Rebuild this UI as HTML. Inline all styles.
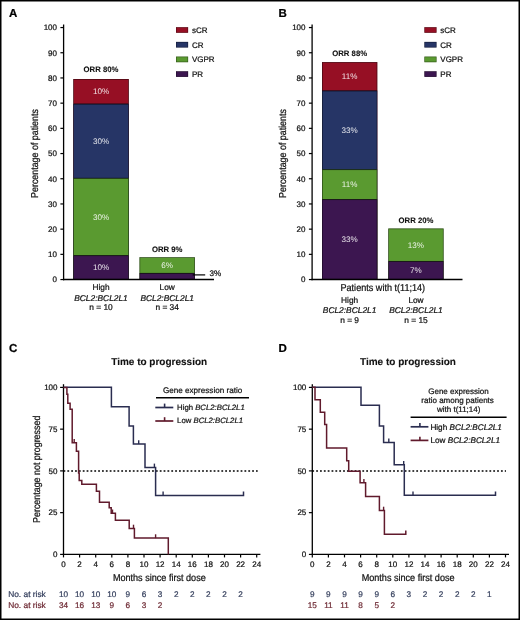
<!DOCTYPE html>
<html><head><meta charset="utf-8"><style>
html,body{margin:0;padding:0;background:#fff;}
svg{display:block;font-family:"Liberation Sans", sans-serif;will-change:transform;text-rendering:geometricPrecision;}
</style></head><body>
<svg width="520" height="620" viewBox="0 0 520 620">
<rect width="520" height="620" fill="#fff"/>
<text x="9.00" y="16.90" font-size="11.5" text-anchor="start" font-weight="bold" fill="#000" stroke="#000" stroke-width="0.22">A</text>
<line x1="63.60" y1="24.60" x2="63.60" y2="280.20" stroke="#000" stroke-width="1.3"/>
<line x1="60.40" y1="279.55" x2="63.60" y2="279.55" stroke="#000" stroke-width="1.2"/>
<text x="57.00" y="282.30" font-size="8.0" text-anchor="end" fill="#111" stroke="#111" stroke-width="0.22">0</text>
<line x1="60.40" y1="254.35" x2="63.60" y2="254.35" stroke="#000" stroke-width="1.2"/>
<text x="57.00" y="257.10" font-size="8.0" text-anchor="end" fill="#111" stroke="#111" stroke-width="0.22">10</text>
<line x1="60.40" y1="229.15" x2="63.60" y2="229.15" stroke="#000" stroke-width="1.2"/>
<text x="57.00" y="231.90" font-size="8.0" text-anchor="end" fill="#111" stroke="#111" stroke-width="0.22">20</text>
<line x1="60.40" y1="203.95" x2="63.60" y2="203.95" stroke="#000" stroke-width="1.2"/>
<text x="57.00" y="206.70" font-size="8.0" text-anchor="end" fill="#111" stroke="#111" stroke-width="0.22">30</text>
<line x1="60.40" y1="178.75" x2="63.60" y2="178.75" stroke="#000" stroke-width="1.2"/>
<text x="57.00" y="181.50" font-size="8.0" text-anchor="end" fill="#111" stroke="#111" stroke-width="0.22">40</text>
<line x1="60.40" y1="153.55" x2="63.60" y2="153.55" stroke="#000" stroke-width="1.2"/>
<text x="57.00" y="156.30" font-size="8.0" text-anchor="end" fill="#111" stroke="#111" stroke-width="0.22">50</text>
<line x1="60.40" y1="128.35" x2="63.60" y2="128.35" stroke="#000" stroke-width="1.2"/>
<text x="57.00" y="131.10" font-size="8.0" text-anchor="end" fill="#111" stroke="#111" stroke-width="0.22">60</text>
<line x1="60.40" y1="103.15" x2="63.60" y2="103.15" stroke="#000" stroke-width="1.2"/>
<text x="57.00" y="105.90" font-size="8.0" text-anchor="end" fill="#111" stroke="#111" stroke-width="0.22">70</text>
<line x1="60.40" y1="77.95" x2="63.60" y2="77.95" stroke="#000" stroke-width="1.2"/>
<text x="57.00" y="80.70" font-size="8.0" text-anchor="end" fill="#111" stroke="#111" stroke-width="0.22">80</text>
<line x1="60.40" y1="52.75" x2="63.60" y2="52.75" stroke="#000" stroke-width="1.2"/>
<text x="57.00" y="55.50" font-size="8.0" text-anchor="end" fill="#111" stroke="#111" stroke-width="0.22">90</text>
<line x1="60.40" y1="27.55" x2="63.60" y2="27.55" stroke="#000" stroke-width="1.2"/>
<text x="57.00" y="30.30" font-size="8.0" text-anchor="end" fill="#111" stroke="#111" stroke-width="0.22">100</text>
<text transform="translate(37.50,153.50) rotate(-90) scale(0.887,1)" font-size="10.0" text-anchor="middle" fill="#111" stroke="#111" stroke-width="0.248">Percentage of patients</text>
<rect x="73.30" y="79.00" width="55.50" height="200.55" fill="#960f24"/>
<rect x="73.30" y="103.85" width="55.50" height="175.70" fill="#263566"/>
<rect x="73.30" y="178.10" width="55.50" height="101.45" fill="#5a9a30"/>
<rect x="73.30" y="255.40" width="55.50" height="24.15" fill="#3c1650"/>
<rect x="73.65" y="79.35" width="54.80" height="24.50" fill="none" stroke="#000" stroke-opacity="0.55" stroke-width="0.7"/>
<rect x="73.65" y="104.20" width="54.80" height="73.90" fill="none" stroke="#000" stroke-opacity="0.55" stroke-width="0.7"/>
<rect x="73.65" y="178.45" width="54.80" height="76.95" fill="none" stroke="#000" stroke-opacity="0.55" stroke-width="0.7"/>
<rect x="73.65" y="255.75" width="54.80" height="23.45" fill="none" stroke="#000" stroke-opacity="0.55" stroke-width="0.7"/>
<text x="101.05" y="94.27" font-size="8.1" text-anchor="middle" fill="#fff" fill-opacity="0.88">10%</text>
<text x="101.05" y="143.82" font-size="8.1" text-anchor="middle" fill="#fff" fill-opacity="0.88">30%</text>
<text x="101.05" y="219.60" font-size="8.1" text-anchor="middle" fill="#fff" fill-opacity="0.88">30%</text>
<text x="101.05" y="270.45" font-size="8.1" text-anchor="middle" fill="#fff" fill-opacity="0.88">10%</text>
<text x="101.05" y="72.30" font-size="7.75" text-anchor="middle" font-weight="bold" fill="#111" stroke="#111" stroke-width="0.1">ORR 80%</text>
<rect x="139.50" y="257.30" width="55.40" height="22.25" fill="#5a9a30"/>
<rect x="139.50" y="273.20" width="55.40" height="6.35" fill="#3c1650"/>
<rect x="139.85" y="257.65" width="54.70" height="15.55" fill="none" stroke="#000" stroke-opacity="0.55" stroke-width="0.7"/>
<rect x="139.85" y="273.55" width="54.70" height="5.65" fill="none" stroke="#000" stroke-opacity="0.55" stroke-width="0.7"/>
<text x="167.20" y="268.10" font-size="8.1" text-anchor="middle" fill="#fff" fill-opacity="0.88">6%</text>
<text x="167.20" y="251.60" font-size="7.75" text-anchor="middle" font-weight="bold" fill="#111" stroke="#111" stroke-width="0.1">ORR 9%</text>
<line x1="63.00" y1="279.55" x2="214.00" y2="279.55" stroke="#000" stroke-width="1.4"/>
<line x1="192.70" y1="274.90" x2="205.20" y2="274.90" stroke="#000" stroke-width="1.2"/>
<text x="209.60" y="275.60" font-size="8.1" text-anchor="start" fill="#111" stroke="#111" stroke-width="0.22">3%</text>
<text x="101.00" y="289.60" font-size="8.3" text-anchor="middle" fill="#111" stroke="#111" stroke-width="0.22">High</text>
<text x="101.00" y="300.80" font-size="8.4" text-anchor="middle" font-style="italic" fill="#111" stroke="#111" stroke-width="0.22">BCL2:BCL2L1</text>
<text x="101.00" y="310.40" font-size="8.4" text-anchor="middle" fill="#111" stroke="#111" stroke-width="0.22">n = 10</text>
<text x="167.20" y="289.60" font-size="8.3" text-anchor="middle" fill="#111" stroke="#111" stroke-width="0.22">Low</text>
<text x="167.20" y="300.80" font-size="8.4" text-anchor="middle" font-style="italic" fill="#111" stroke="#111" stroke-width="0.22">BCL2:BCL2L1</text>
<text x="167.20" y="310.40" font-size="8.4" text-anchor="middle" fill="#111" stroke="#111" stroke-width="0.22">n = 34</text>
<text x="278.60" y="17.20" font-size="11.5" text-anchor="start" font-weight="bold" fill="#000" stroke="#000" stroke-width="0.22">B</text>
<line x1="312.10" y1="24.60" x2="312.10" y2="280.20" stroke="#000" stroke-width="1.3"/>
<line x1="308.90" y1="279.55" x2="312.10" y2="279.55" stroke="#000" stroke-width="1.2"/>
<text x="305.50" y="282.30" font-size="8.0" text-anchor="end" fill="#111" stroke="#111" stroke-width="0.22">0</text>
<line x1="308.90" y1="254.35" x2="312.10" y2="254.35" stroke="#000" stroke-width="1.2"/>
<text x="305.50" y="257.10" font-size="8.0" text-anchor="end" fill="#111" stroke="#111" stroke-width="0.22">10</text>
<line x1="308.90" y1="229.15" x2="312.10" y2="229.15" stroke="#000" stroke-width="1.2"/>
<text x="305.50" y="231.90" font-size="8.0" text-anchor="end" fill="#111" stroke="#111" stroke-width="0.22">20</text>
<line x1="308.90" y1="203.95" x2="312.10" y2="203.95" stroke="#000" stroke-width="1.2"/>
<text x="305.50" y="206.70" font-size="8.0" text-anchor="end" fill="#111" stroke="#111" stroke-width="0.22">30</text>
<line x1="308.90" y1="178.75" x2="312.10" y2="178.75" stroke="#000" stroke-width="1.2"/>
<text x="305.50" y="181.50" font-size="8.0" text-anchor="end" fill="#111" stroke="#111" stroke-width="0.22">40</text>
<line x1="308.90" y1="153.55" x2="312.10" y2="153.55" stroke="#000" stroke-width="1.2"/>
<text x="305.50" y="156.30" font-size="8.0" text-anchor="end" fill="#111" stroke="#111" stroke-width="0.22">50</text>
<line x1="308.90" y1="128.35" x2="312.10" y2="128.35" stroke="#000" stroke-width="1.2"/>
<text x="305.50" y="131.10" font-size="8.0" text-anchor="end" fill="#111" stroke="#111" stroke-width="0.22">60</text>
<line x1="308.90" y1="103.15" x2="312.10" y2="103.15" stroke="#000" stroke-width="1.2"/>
<text x="305.50" y="105.90" font-size="8.0" text-anchor="end" fill="#111" stroke="#111" stroke-width="0.22">70</text>
<line x1="308.90" y1="77.95" x2="312.10" y2="77.95" stroke="#000" stroke-width="1.2"/>
<text x="305.50" y="80.70" font-size="8.0" text-anchor="end" fill="#111" stroke="#111" stroke-width="0.22">80</text>
<line x1="308.90" y1="52.75" x2="312.10" y2="52.75" stroke="#000" stroke-width="1.2"/>
<text x="305.50" y="55.50" font-size="8.0" text-anchor="end" fill="#111" stroke="#111" stroke-width="0.22">90</text>
<line x1="308.90" y1="27.55" x2="312.10" y2="27.55" stroke="#000" stroke-width="1.2"/>
<text x="305.50" y="30.30" font-size="8.0" text-anchor="end" fill="#111" stroke="#111" stroke-width="0.22">100</text>
<text transform="translate(285.90,153.50) rotate(-90) scale(0.887,1)" font-size="10.0" text-anchor="middle" fill="#111" stroke="#111" stroke-width="0.248">Percentage of patients</text>
<rect x="322.00" y="62.10" width="55.30" height="217.45" fill="#960f24"/>
<rect x="322.00" y="90.70" width="55.30" height="188.85" fill="#263566"/>
<rect x="322.00" y="169.40" width="55.30" height="110.15" fill="#5a9a30"/>
<rect x="322.00" y="199.35" width="55.30" height="80.20" fill="#3c1650"/>
<rect x="322.35" y="62.45" width="54.60" height="28.25" fill="none" stroke="#000" stroke-opacity="0.55" stroke-width="0.7"/>
<rect x="322.35" y="91.05" width="54.60" height="78.35" fill="none" stroke="#000" stroke-opacity="0.55" stroke-width="0.7"/>
<rect x="322.35" y="169.75" width="54.60" height="29.60" fill="none" stroke="#000" stroke-opacity="0.55" stroke-width="0.7"/>
<rect x="322.35" y="199.70" width="54.60" height="79.50" fill="none" stroke="#000" stroke-opacity="0.55" stroke-width="0.7"/>
<text x="349.65" y="79.25" font-size="8.1" text-anchor="middle" fill="#fff" fill-opacity="0.88">11%</text>
<text x="349.65" y="132.90" font-size="8.1" text-anchor="middle" fill="#fff" fill-opacity="0.88">33%</text>
<text x="349.65" y="187.22" font-size="8.1" text-anchor="middle" fill="#fff" fill-opacity="0.88">11%</text>
<text x="349.65" y="242.42" font-size="8.1" text-anchor="middle" fill="#fff" fill-opacity="0.88">33%</text>
<text x="349.65" y="55.70" font-size="7.75" text-anchor="middle" font-weight="bold" fill="#111" stroke="#111" stroke-width="0.1">ORR 88%</text>
<rect x="388.30" y="228.50" width="55.30" height="51.05" fill="#5a9a30"/>
<rect x="388.30" y="261.30" width="55.30" height="18.25" fill="#3c1650"/>
<rect x="388.65" y="228.85" width="54.60" height="32.45" fill="none" stroke="#000" stroke-opacity="0.55" stroke-width="0.7"/>
<rect x="388.65" y="261.65" width="54.60" height="17.55" fill="none" stroke="#000" stroke-opacity="0.55" stroke-width="0.7"/>
<text x="415.95" y="247.75" font-size="8.1" text-anchor="middle" fill="#fff" fill-opacity="0.88">13%</text>
<text x="415.95" y="273.40" font-size="8.1" text-anchor="middle" fill="#fff" fill-opacity="0.88">7%</text>
<text x="415.95" y="222.70" font-size="7.75" text-anchor="middle" font-weight="bold" fill="#111" stroke="#111" stroke-width="0.1">ORR 20%</text>
<line x1="311.50" y1="279.55" x2="462.50" y2="279.55" stroke="#000" stroke-width="1.4"/>
<text transform="translate(382.80,291.40) scale(0.908,1)" font-size="10.0" text-anchor="middle" fill="#111" stroke="#111" stroke-width="0.242">Patients with t(11;14)</text>
<text x="349.60" y="303.10" font-size="8.3" text-anchor="middle" fill="#111" stroke="#111" stroke-width="0.22">High</text>
<text x="349.60" y="313.20" font-size="8.4" text-anchor="middle" font-style="italic" fill="#111" stroke="#111" stroke-width="0.22">BCL2:BCL2L1</text>
<text x="349.60" y="323.40" font-size="8.4" text-anchor="middle" fill="#111" stroke="#111" stroke-width="0.22">n = 9</text>
<text x="416.00" y="303.10" font-size="8.3" text-anchor="middle" fill="#111" stroke="#111" stroke-width="0.22">Low</text>
<text x="416.00" y="313.20" font-size="8.4" text-anchor="middle" font-style="italic" fill="#111" stroke="#111" stroke-width="0.22">BCL2:BCL2L1</text>
<text x="416.00" y="323.40" font-size="8.4" text-anchor="middle" fill="#111" stroke="#111" stroke-width="0.22">n = 15</text>
<rect x="176.00" y="27.20" width="12.10" height="5.60" fill="#960f24"/>
<rect x="176.30" y="27.50" width="11.5" height="5.0" fill="none" stroke="#000" stroke-opacity="0.45" stroke-width="0.6"/>
<text x="191.90" y="32.90" font-size="8.0" text-anchor="start" fill="#111" stroke="#111" stroke-width="0.22">sCR</text>
<rect x="176.00" y="41.90" width="12.10" height="5.60" fill="#263566"/>
<rect x="176.30" y="42.20" width="11.5" height="5.0" fill="none" stroke="#000" stroke-opacity="0.45" stroke-width="0.6"/>
<text x="191.90" y="47.60" font-size="8.0" text-anchor="start" fill="#111" stroke="#111" stroke-width="0.22">CR</text>
<rect x="176.00" y="56.60" width="12.10" height="5.60" fill="#5a9a30"/>
<rect x="176.30" y="56.90" width="11.5" height="5.0" fill="none" stroke="#000" stroke-opacity="0.45" stroke-width="0.6"/>
<text x="191.90" y="62.30" font-size="8.0" text-anchor="start" fill="#111" stroke="#111" stroke-width="0.22">VGPR</text>
<rect x="176.00" y="71.30" width="12.10" height="5.60" fill="#3c1650"/>
<rect x="176.30" y="71.60" width="11.5" height="5.0" fill="none" stroke="#000" stroke-opacity="0.45" stroke-width="0.6"/>
<text x="191.90" y="77.00" font-size="8.0" text-anchor="start" fill="#111" stroke="#111" stroke-width="0.22">PR</text>
<rect x="424.40" y="27.20" width="12.10" height="5.60" fill="#960f24"/>
<rect x="424.70" y="27.50" width="11.5" height="5.0" fill="none" stroke="#000" stroke-opacity="0.45" stroke-width="0.6"/>
<text x="440.30" y="32.90" font-size="8.0" text-anchor="start" fill="#111" stroke="#111" stroke-width="0.22">sCR</text>
<rect x="424.40" y="41.90" width="12.10" height="5.60" fill="#263566"/>
<rect x="424.70" y="42.20" width="11.5" height="5.0" fill="none" stroke="#000" stroke-opacity="0.45" stroke-width="0.6"/>
<text x="440.30" y="47.60" font-size="8.0" text-anchor="start" fill="#111" stroke="#111" stroke-width="0.22">CR</text>
<rect x="424.40" y="56.60" width="12.10" height="5.60" fill="#5a9a30"/>
<rect x="424.70" y="56.90" width="11.5" height="5.0" fill="none" stroke="#000" stroke-opacity="0.45" stroke-width="0.6"/>
<text x="440.30" y="62.30" font-size="8.0" text-anchor="start" fill="#111" stroke="#111" stroke-width="0.22">VGPR</text>
<rect x="424.40" y="71.30" width="12.10" height="5.60" fill="#3c1650"/>
<rect x="424.70" y="71.60" width="11.5" height="5.0" fill="none" stroke="#000" stroke-opacity="0.45" stroke-width="0.6"/>
<text x="440.30" y="77.00" font-size="8.0" text-anchor="start" fill="#111" stroke="#111" stroke-width="0.22">PR</text>
<text x="9.00" y="351.50" font-size="11.5" text-anchor="start" font-weight="bold" fill="#000" stroke="#000" stroke-width="0.22">C</text>
<text x="159.20" y="365.00" font-size="10.0" text-anchor="middle" font-weight="bold" fill="#111" stroke="#111" stroke-width="0.1">Time to progression</text>
<line x1="63.50" y1="384.20" x2="63.50" y2="555.05" stroke="#000" stroke-width="1.3"/>
<line x1="62.85" y1="554.40" x2="260.40" y2="554.40" stroke="#000" stroke-width="1.3"/>
<line x1="60.10" y1="554.40" x2="63.50" y2="554.40" stroke="#000" stroke-width="1.2"/>
<text x="57.50" y="557.20" font-size="8.0" text-anchor="end" fill="#111" stroke="#111" stroke-width="0.22">0</text>
<line x1="60.10" y1="512.65" x2="63.50" y2="512.65" stroke="#000" stroke-width="1.2"/>
<text x="57.50" y="515.45" font-size="8.0" text-anchor="end" fill="#111" stroke="#111" stroke-width="0.22">25</text>
<line x1="60.10" y1="470.90" x2="63.50" y2="470.90" stroke="#000" stroke-width="1.2"/>
<text x="57.50" y="473.70" font-size="8.0" text-anchor="end" fill="#111" stroke="#111" stroke-width="0.22">50</text>
<line x1="60.10" y1="429.15" x2="63.50" y2="429.15" stroke="#000" stroke-width="1.2"/>
<text x="57.50" y="431.95" font-size="8.0" text-anchor="end" fill="#111" stroke="#111" stroke-width="0.22">75</text>
<line x1="60.10" y1="387.40" x2="63.50" y2="387.40" stroke="#000" stroke-width="1.2"/>
<text x="57.50" y="390.20" font-size="8.0" text-anchor="end" fill="#111" stroke="#111" stroke-width="0.22">100</text>
<line x1="63.50" y1="554.40" x2="63.50" y2="557.40" stroke="#000" stroke-width="1.2"/>
<text x="63.50" y="566.90" font-size="8.0" text-anchor="middle" fill="#111" stroke="#111" stroke-width="0.22">0</text>
<line x1="79.60" y1="554.40" x2="79.60" y2="557.40" stroke="#000" stroke-width="1.2"/>
<text x="79.60" y="566.90" font-size="8.0" text-anchor="middle" fill="#111" stroke="#111" stroke-width="0.22">2</text>
<line x1="95.70" y1="554.40" x2="95.70" y2="557.40" stroke="#000" stroke-width="1.2"/>
<text x="95.70" y="566.90" font-size="8.0" text-anchor="middle" fill="#111" stroke="#111" stroke-width="0.22">4</text>
<line x1="111.80" y1="554.40" x2="111.80" y2="557.40" stroke="#000" stroke-width="1.2"/>
<text x="111.80" y="566.90" font-size="8.0" text-anchor="middle" fill="#111" stroke="#111" stroke-width="0.22">6</text>
<line x1="127.90" y1="554.40" x2="127.90" y2="557.40" stroke="#000" stroke-width="1.2"/>
<text x="127.90" y="566.90" font-size="8.0" text-anchor="middle" fill="#111" stroke="#111" stroke-width="0.22">8</text>
<line x1="144.00" y1="554.40" x2="144.00" y2="557.40" stroke="#000" stroke-width="1.2"/>
<text x="144.00" y="566.90" font-size="8.0" text-anchor="middle" fill="#111" stroke="#111" stroke-width="0.22">10</text>
<line x1="160.10" y1="554.40" x2="160.10" y2="557.40" stroke="#000" stroke-width="1.2"/>
<text x="160.10" y="566.90" font-size="8.0" text-anchor="middle" fill="#111" stroke="#111" stroke-width="0.22">12</text>
<line x1="176.20" y1="554.40" x2="176.20" y2="557.40" stroke="#000" stroke-width="1.2"/>
<text x="176.20" y="566.90" font-size="8.0" text-anchor="middle" fill="#111" stroke="#111" stroke-width="0.22">14</text>
<line x1="192.30" y1="554.40" x2="192.30" y2="557.40" stroke="#000" stroke-width="1.2"/>
<text x="192.30" y="566.90" font-size="8.0" text-anchor="middle" fill="#111" stroke="#111" stroke-width="0.22">16</text>
<line x1="208.40" y1="554.40" x2="208.40" y2="557.40" stroke="#000" stroke-width="1.2"/>
<text x="208.40" y="566.90" font-size="8.0" text-anchor="middle" fill="#111" stroke="#111" stroke-width="0.22">18</text>
<line x1="224.50" y1="554.40" x2="224.50" y2="557.40" stroke="#000" stroke-width="1.2"/>
<text x="224.50" y="566.90" font-size="8.0" text-anchor="middle" fill="#111" stroke="#111" stroke-width="0.22">20</text>
<line x1="240.60" y1="554.40" x2="240.60" y2="557.40" stroke="#000" stroke-width="1.2"/>
<text x="240.60" y="566.90" font-size="8.0" text-anchor="middle" fill="#111" stroke="#111" stroke-width="0.22">22</text>
<line x1="256.70" y1="554.40" x2="256.70" y2="557.40" stroke="#000" stroke-width="1.2"/>
<text x="256.70" y="566.90" font-size="8.0" text-anchor="middle" fill="#111" stroke="#111" stroke-width="0.22">24</text>
<text transform="translate(159.30,580.80) scale(0.908,1)" font-size="10.0" text-anchor="middle" fill="#111" stroke="#111" stroke-width="0.242">Months since first dose</text>
<text transform="translate(39.60,469.30) rotate(-90) scale(0.889,1)" font-size="10.0" text-anchor="middle" fill="#111" stroke="#111" stroke-width="0.247">Percentage not progressed</text>
<line x1="63.50" y1="471.0" x2="257.70" y2="471.0" stroke="#000" stroke-width="1.6" stroke-dasharray="1.8 2.05"/>
<path d="M63.5,387.3 H111.4 V406.8 H129.1 V426.0 H133.4 V444.1 H145.0 V467.4 H155.6 V495.4 H243.5 V491.6" fill="none" stroke="#2a2d50" stroke-width="1.5" stroke-linejoin="miter"/>
<path d="M63.5,387.4 H66.9 V394.2 H67.8 V403.3 H70.1 V409.3 H72.2 V442.7 H76.4 V451.2 H78.6 V473.1 H79.2 V480.4 H81.8 V484.2 H96.4 V491.2 H99.5 V502.3 H109.2 V507.7 H111.2 V513.3 H115.4 V520.2 H129.2 V528.5 H134.4 V538.1 H168.3 V554.4" fill="none" stroke="#601a2c" stroke-width="1.5" stroke-linejoin="miter"/>
<line x1="138.70" y1="440.30" x2="138.70" y2="444.10" stroke="#2a2d50" stroke-width="1.4"/>
<line x1="154.40" y1="463.60" x2="154.40" y2="467.40" stroke="#2a2d50" stroke-width="1.4"/>
<line x1="163.10" y1="491.60" x2="163.10" y2="495.40" stroke="#2a2d50" stroke-width="1.4"/>
<line x1="74.20" y1="438.90" x2="74.20" y2="442.70" stroke="#601a2c" stroke-width="1.4"/>
<line x1="112.50" y1="509.50" x2="112.50" y2="513.30" stroke="#601a2c" stroke-width="1.4"/>
<line x1="133.50" y1="524.70" x2="133.50" y2="528.50" stroke="#601a2c" stroke-width="1.4"/>
<line x1="155.60" y1="534.30" x2="155.60" y2="538.10" stroke="#601a2c" stroke-width="1.4"/>
<text x="163.00" y="393.20" font-size="8.1" text-anchor="start" fill="#111" stroke="#111" stroke-width="0.22">Gene expression ratio</text>
<line x1="156.00" y1="397.80" x2="249.00" y2="397.80" stroke="#000" stroke-width="1.4"/>
<line x1="155.30" y1="407.50" x2="173.30" y2="407.50" stroke="#2a2d50" stroke-width="1.7"/>
<line x1="164.60" y1="403.60" x2="164.60" y2="407.50" stroke="#2a2d50" stroke-width="1.6"/>
<text x="177.10" y="409.60" font-size="7.75" text-anchor="start" fill="#111" stroke="#111" stroke-width="0.22">High <tspan font-style="italic">BCL2:BCL2L1</tspan></text>
<line x1="155.30" y1="421.00" x2="173.30" y2="421.00" stroke="#601a2c" stroke-width="1.7"/>
<line x1="164.60" y1="417.20" x2="164.60" y2="421.00" stroke="#601a2c" stroke-width="1.6"/>
<text x="177.10" y="422.80" font-size="7.75" text-anchor="start" fill="#111" stroke="#111" stroke-width="0.22">Low <tspan font-style="italic">BCL2:BCL2L1</tspan></text>
<text x="8.20" y="596.50" font-size="8.35" text-anchor="start" fill="#36405e" stroke="#36405e" stroke-width="0.22">No. at risk</text>
<text x="8.20" y="608.30" font-size="8.35" text-anchor="start" fill="#6e2a34" stroke="#6e2a34" stroke-width="0.22">No. at risk</text>
<text x="63.50" y="596.50" font-size="8.2" text-anchor="middle" fill="#36405e" stroke="#36405e" stroke-width="0.22">10</text>
<text x="79.60" y="596.50" font-size="8.2" text-anchor="middle" fill="#36405e" stroke="#36405e" stroke-width="0.22">10</text>
<text x="95.70" y="596.50" font-size="8.2" text-anchor="middle" fill="#36405e" stroke="#36405e" stroke-width="0.22">10</text>
<text x="111.80" y="596.50" font-size="8.2" text-anchor="middle" fill="#36405e" stroke="#36405e" stroke-width="0.22">10</text>
<text x="127.90" y="596.50" font-size="8.2" text-anchor="middle" fill="#36405e" stroke="#36405e" stroke-width="0.22">9</text>
<text x="144.00" y="596.50" font-size="8.2" text-anchor="middle" fill="#36405e" stroke="#36405e" stroke-width="0.22">6</text>
<text x="160.10" y="596.50" font-size="8.2" text-anchor="middle" fill="#36405e" stroke="#36405e" stroke-width="0.22">3</text>
<text x="176.20" y="596.50" font-size="8.2" text-anchor="middle" fill="#36405e" stroke="#36405e" stroke-width="0.22">2</text>
<text x="192.30" y="596.50" font-size="8.2" text-anchor="middle" fill="#36405e" stroke="#36405e" stroke-width="0.22">2</text>
<text x="208.40" y="596.50" font-size="8.2" text-anchor="middle" fill="#36405e" stroke="#36405e" stroke-width="0.22">2</text>
<text x="224.50" y="596.50" font-size="8.2" text-anchor="middle" fill="#36405e" stroke="#36405e" stroke-width="0.22">2</text>
<text x="240.60" y="596.50" font-size="8.2" text-anchor="middle" fill="#36405e" stroke="#36405e" stroke-width="0.22">2</text>
<text x="63.50" y="608.30" font-size="8.2" text-anchor="middle" fill="#6e2a34" stroke="#6e2a34" stroke-width="0.22">34</text>
<text x="79.60" y="608.30" font-size="8.2" text-anchor="middle" fill="#6e2a34" stroke="#6e2a34" stroke-width="0.22">16</text>
<text x="95.70" y="608.30" font-size="8.2" text-anchor="middle" fill="#6e2a34" stroke="#6e2a34" stroke-width="0.22">13</text>
<text x="111.80" y="608.30" font-size="8.2" text-anchor="middle" fill="#6e2a34" stroke="#6e2a34" stroke-width="0.22">9</text>
<text x="127.90" y="608.30" font-size="8.2" text-anchor="middle" fill="#6e2a34" stroke="#6e2a34" stroke-width="0.22">6</text>
<text x="144.00" y="608.30" font-size="8.2" text-anchor="middle" fill="#6e2a34" stroke="#6e2a34" stroke-width="0.22">3</text>
<text x="160.10" y="608.30" font-size="8.2" text-anchor="middle" fill="#6e2a34" stroke="#6e2a34" stroke-width="0.22">2</text>
<text x="278.40" y="351.50" font-size="11.5" text-anchor="start" font-weight="bold" fill="#000" stroke="#000" stroke-width="0.22">D</text>
<text x="408.00" y="365.00" font-size="10.0" text-anchor="middle" font-weight="bold" fill="#111" stroke="#111" stroke-width="0.1">Time to progression</text>
<line x1="312.30" y1="384.20" x2="312.30" y2="555.05" stroke="#000" stroke-width="1.3"/>
<line x1="311.65" y1="554.40" x2="509.00" y2="554.40" stroke="#000" stroke-width="1.3"/>
<line x1="308.90" y1="554.40" x2="312.30" y2="554.40" stroke="#000" stroke-width="1.2"/>
<text x="306.30" y="557.20" font-size="8.0" text-anchor="end" fill="#111" stroke="#111" stroke-width="0.22">0</text>
<line x1="308.90" y1="512.65" x2="312.30" y2="512.65" stroke="#000" stroke-width="1.2"/>
<text x="306.30" y="515.45" font-size="8.0" text-anchor="end" fill="#111" stroke="#111" stroke-width="0.22">25</text>
<line x1="308.90" y1="470.90" x2="312.30" y2="470.90" stroke="#000" stroke-width="1.2"/>
<text x="306.30" y="473.70" font-size="8.0" text-anchor="end" fill="#111" stroke="#111" stroke-width="0.22">50</text>
<line x1="308.90" y1="429.15" x2="312.30" y2="429.15" stroke="#000" stroke-width="1.2"/>
<text x="306.30" y="431.95" font-size="8.0" text-anchor="end" fill="#111" stroke="#111" stroke-width="0.22">75</text>
<line x1="308.90" y1="387.40" x2="312.30" y2="387.40" stroke="#000" stroke-width="1.2"/>
<text x="306.30" y="390.20" font-size="8.0" text-anchor="end" fill="#111" stroke="#111" stroke-width="0.22">100</text>
<line x1="312.30" y1="554.40" x2="312.30" y2="557.40" stroke="#000" stroke-width="1.2"/>
<text x="312.30" y="566.90" font-size="8.0" text-anchor="middle" fill="#111" stroke="#111" stroke-width="0.22">0</text>
<line x1="328.40" y1="554.40" x2="328.40" y2="557.40" stroke="#000" stroke-width="1.2"/>
<text x="328.40" y="566.90" font-size="8.0" text-anchor="middle" fill="#111" stroke="#111" stroke-width="0.22">2</text>
<line x1="344.50" y1="554.40" x2="344.50" y2="557.40" stroke="#000" stroke-width="1.2"/>
<text x="344.50" y="566.90" font-size="8.0" text-anchor="middle" fill="#111" stroke="#111" stroke-width="0.22">4</text>
<line x1="360.60" y1="554.40" x2="360.60" y2="557.40" stroke="#000" stroke-width="1.2"/>
<text x="360.60" y="566.90" font-size="8.0" text-anchor="middle" fill="#111" stroke="#111" stroke-width="0.22">6</text>
<line x1="376.70" y1="554.40" x2="376.70" y2="557.40" stroke="#000" stroke-width="1.2"/>
<text x="376.70" y="566.90" font-size="8.0" text-anchor="middle" fill="#111" stroke="#111" stroke-width="0.22">8</text>
<line x1="392.80" y1="554.40" x2="392.80" y2="557.40" stroke="#000" stroke-width="1.2"/>
<text x="392.80" y="566.90" font-size="8.0" text-anchor="middle" fill="#111" stroke="#111" stroke-width="0.22">10</text>
<line x1="408.90" y1="554.40" x2="408.90" y2="557.40" stroke="#000" stroke-width="1.2"/>
<text x="408.90" y="566.90" font-size="8.0" text-anchor="middle" fill="#111" stroke="#111" stroke-width="0.22">12</text>
<line x1="425.00" y1="554.40" x2="425.00" y2="557.40" stroke="#000" stroke-width="1.2"/>
<text x="425.00" y="566.90" font-size="8.0" text-anchor="middle" fill="#111" stroke="#111" stroke-width="0.22">14</text>
<line x1="441.10" y1="554.40" x2="441.10" y2="557.40" stroke="#000" stroke-width="1.2"/>
<text x="441.10" y="566.90" font-size="8.0" text-anchor="middle" fill="#111" stroke="#111" stroke-width="0.22">16</text>
<line x1="457.20" y1="554.40" x2="457.20" y2="557.40" stroke="#000" stroke-width="1.2"/>
<text x="457.20" y="566.90" font-size="8.0" text-anchor="middle" fill="#111" stroke="#111" stroke-width="0.22">18</text>
<line x1="473.30" y1="554.40" x2="473.30" y2="557.40" stroke="#000" stroke-width="1.2"/>
<text x="473.30" y="566.90" font-size="8.0" text-anchor="middle" fill="#111" stroke="#111" stroke-width="0.22">20</text>
<line x1="489.40" y1="554.40" x2="489.40" y2="557.40" stroke="#000" stroke-width="1.2"/>
<text x="489.40" y="566.90" font-size="8.0" text-anchor="middle" fill="#111" stroke="#111" stroke-width="0.22">22</text>
<line x1="505.50" y1="554.40" x2="505.50" y2="557.40" stroke="#000" stroke-width="1.2"/>
<text x="505.50" y="566.90" font-size="8.0" text-anchor="middle" fill="#111" stroke="#111" stroke-width="0.22">24</text>
<text transform="translate(408.10,580.80) scale(0.908,1)" font-size="10.0" text-anchor="middle" fill="#111" stroke="#111" stroke-width="0.242">Months since first dose</text>
<line x1="312.30" y1="471.0" x2="506.00" y2="471.0" stroke="#000" stroke-width="1.6" stroke-dasharray="1.8 2.05"/>
<path d="M312.3,387.3 H361.0 V405.3 H379.4 V426.0 H383.6 V442.4 H394.2 V464.7 H404.3 V495.3 H495.5 V491.6" fill="none" stroke="#2a2d50" stroke-width="1.5" stroke-linejoin="miter"/>
<path d="M312.3,387.3 H315.0 V399.7 H320.3 V412.3 H324.7 V424.6 H326.6 V448.1 H346.7 V460.8 H348.7 V471.3 H360.1 V482.8 H365.6 V496.5 H379.4 V510.5 H384.4 V534.2 H405.8 V530.4" fill="none" stroke="#601a2c" stroke-width="1.5" stroke-linejoin="miter"/>
<line x1="388.80" y1="438.60" x2="388.80" y2="442.40" stroke="#2a2d50" stroke-width="1.4"/>
<line x1="403.70" y1="460.90" x2="403.70" y2="464.70" stroke="#2a2d50" stroke-width="1.4"/>
<line x1="413.00" y1="491.50" x2="413.00" y2="495.30" stroke="#2a2d50" stroke-width="1.4"/>
<line x1="363.90" y1="479.00" x2="363.90" y2="482.80" stroke="#601a2c" stroke-width="1.4"/>
<line x1="383.60" y1="506.70" x2="383.60" y2="510.50" stroke="#601a2c" stroke-width="1.4"/>
<text x="458.50" y="393.60" font-size="8.0" text-anchor="middle" fill="#111" stroke="#111" stroke-width="0.22">Gene expression</text>
<text x="457.60" y="402.50" font-size="8.0" text-anchor="middle" fill="#111" stroke="#111" stroke-width="0.22">ratio among patients</text>
<text x="458.70" y="411.70" font-size="8.0" text-anchor="middle" fill="#111" stroke="#111" stroke-width="0.22">with t(11;14)</text>
<line x1="410.60" y1="417.30" x2="506.60" y2="417.30" stroke="#000" stroke-width="1.4"/>
<line x1="410.60" y1="426.80" x2="428.40" y2="426.80" stroke="#2a2d50" stroke-width="1.7"/>
<line x1="419.90" y1="423.10" x2="419.90" y2="426.80" stroke="#2a2d50" stroke-width="1.6"/>
<text x="430.40" y="429.60" font-size="8.2" text-anchor="start" fill="#111" stroke="#111" stroke-width="0.22">High <tspan font-style="italic">BCL2:BCL2L1</tspan></text>
<line x1="410.60" y1="440.40" x2="428.40" y2="440.40" stroke="#601a2c" stroke-width="1.7"/>
<line x1="419.90" y1="436.70" x2="419.90" y2="440.40" stroke="#601a2c" stroke-width="1.6"/>
<text x="430.40" y="443.20" font-size="8.2" text-anchor="start" fill="#111" stroke="#111" stroke-width="0.22">Low <tspan font-style="italic">BCL2:BCL2L1</tspan></text>
<text x="312.30" y="596.50" font-size="8.2" text-anchor="middle" fill="#36405e" stroke="#36405e" stroke-width="0.22">9</text>
<text x="328.40" y="596.50" font-size="8.2" text-anchor="middle" fill="#36405e" stroke="#36405e" stroke-width="0.22">9</text>
<text x="344.50" y="596.50" font-size="8.2" text-anchor="middle" fill="#36405e" stroke="#36405e" stroke-width="0.22">9</text>
<text x="360.60" y="596.50" font-size="8.2" text-anchor="middle" fill="#36405e" stroke="#36405e" stroke-width="0.22">9</text>
<text x="376.70" y="596.50" font-size="8.2" text-anchor="middle" fill="#36405e" stroke="#36405e" stroke-width="0.22">9</text>
<text x="392.80" y="596.50" font-size="8.2" text-anchor="middle" fill="#36405e" stroke="#36405e" stroke-width="0.22">6</text>
<text x="408.90" y="596.50" font-size="8.2" text-anchor="middle" fill="#36405e" stroke="#36405e" stroke-width="0.22">3</text>
<text x="425.00" y="596.50" font-size="8.2" text-anchor="middle" fill="#36405e" stroke="#36405e" stroke-width="0.22">2</text>
<text x="441.10" y="596.50" font-size="8.2" text-anchor="middle" fill="#36405e" stroke="#36405e" stroke-width="0.22">2</text>
<text x="457.20" y="596.50" font-size="8.2" text-anchor="middle" fill="#36405e" stroke="#36405e" stroke-width="0.22">2</text>
<text x="473.30" y="596.50" font-size="8.2" text-anchor="middle" fill="#36405e" stroke="#36405e" stroke-width="0.22">2</text>
<text x="489.40" y="596.50" font-size="8.2" text-anchor="middle" fill="#36405e" stroke="#36405e" stroke-width="0.22">1</text>
<text x="312.30" y="608.30" font-size="8.2" text-anchor="middle" fill="#6e2a34" stroke="#6e2a34" stroke-width="0.22">15</text>
<text x="328.40" y="608.30" font-size="8.2" text-anchor="middle" fill="#6e2a34" stroke="#6e2a34" stroke-width="0.22">11</text>
<text x="344.50" y="608.30" font-size="8.2" text-anchor="middle" fill="#6e2a34" stroke="#6e2a34" stroke-width="0.22">11</text>
<text x="360.60" y="608.30" font-size="8.2" text-anchor="middle" fill="#6e2a34" stroke="#6e2a34" stroke-width="0.22">8</text>
<text x="376.70" y="608.30" font-size="8.2" text-anchor="middle" fill="#6e2a34" stroke="#6e2a34" stroke-width="0.22">5</text>
<text x="392.80" y="608.30" font-size="8.2" text-anchor="middle" fill="#6e2a34" stroke="#6e2a34" stroke-width="0.22">2</text>
<rect x="0.75" y="0.75" width="518.5" height="618.5" fill="none" stroke="#000" stroke-width="1.5"/>
</svg>
</body></html>
